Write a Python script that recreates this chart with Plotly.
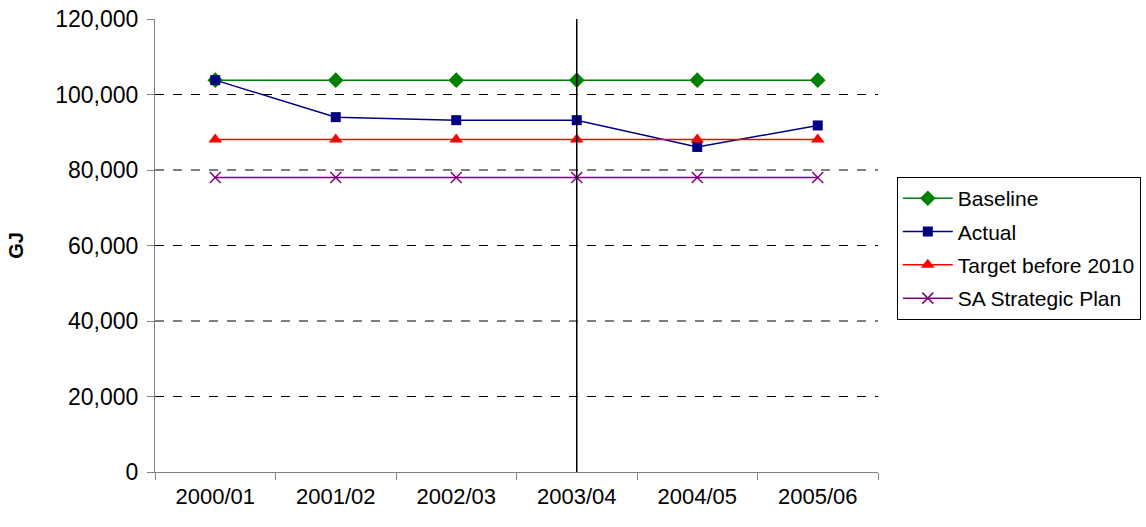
import plotly.graph_objects as go

years = ["2000/01", "2001/02", "2002/03", "2003/04", "2004/05", "2005/06"]
baseline = [103800, 103800, 103800, 103800, 103800, 103800]
actual = [103800, 94000, 93200, 93200, 86100, 91800]
target = [88100, 88100, 88100, 88100, 88100, 88100]
sa_plan = [78000, 78000, 78000, 78000, 78000, 78000]
y_ticks = [0, 20000, 40000, 60000, 80000, 100000, 120000]
grid_vals = [20000, 40000, 60000, 80000, 100000]
marker_year = "2003/04"

fig = go.Figure()
fig.add_trace(go.Scatter(x=years, y=baseline, name="Baseline", mode="lines+markers",
                         legendgroup="a",
                         line=dict(color="#008000", width=1.5),
                         marker=dict(symbol="diamond", size=12, color="#008000")))
fig.add_trace(go.Scatter(x=years, y=actual, name="Actual", mode="lines+markers",
                         legendgroup="b",
                         line=dict(color="#000080", width=1.5),
                         marker=dict(symbol="square", size=10, color="#000080")))
fig.add_trace(go.Scatter(x=years, y=target, name="Target before 2010", mode="lines+markers",
                         legendgroup="c",
                         line=dict(color="#FF0000", width=1.5),
                         marker=dict(symbol="triangle-up", size=12, color="#FF0000")))
fig.add_trace(go.Scatter(x=years, y=sa_plan, name="SA Strategic Plan", mode="lines+markers",
                         legendgroup="d",
                         line=dict(color="#800080", width=1.5),
                         marker=dict(symbol="x-thin-open", size=11, color="#800080",
                                     line=dict(color="#800080", width=1.5))))

for g in grid_vals:
    fig.add_shape(type="line", xref="paper", x0=0, x1=1, yref="y", y0=g, y1=g,
                  line=dict(color="black", width=1, dash="dash"), layer="below")

fig.add_shape(type="line", xref="x", x0=marker_year, x1=marker_year, yref="paper", y0=0, y1=1,
              line=dict(color="black", width=1.5))

fig.update_layout(
    width=1146, height=527,
    margin=dict(l=155, r=268, t=19, b=55, autoexpand=False),
    paper_bgcolor="white", plot_bgcolor="white",
    font=dict(family="Arial, Liberation Sans, sans-serif", size=18, color="black"),
    showlegend=True,
    legend=dict(x=1.026, y=0.651, xanchor="left", yanchor="top",
                bordercolor="black", borderwidth=1, bgcolor="white",
                font=dict(size=21), tracegroupgap=3, itemwidth=50,
                traceorder="grouped"),
    xaxis=dict(type="category", range=[-0.5, 5.5], showgrid=False,
               showline=True, linecolor="#808080", linewidth=1,
               ticks="outside", ticklen=7, tickcolor="#808080", tickson="boundaries",
               tickfont=dict(size=22), ticklabelstandoff=5),
    yaxis=dict(range=[0, 120000], tickvals=y_ticks, tickformat=",d", showgrid=False,
               zeroline=False, showline=True, linecolor="#808080", linewidth=1,
               ticks="outside", ticklen=7, tickcolor="#808080",
               tickfont=dict(size=23), ticklabelstandoff=4, ticklabeloverflow="allow",
               title=dict(text="<b>GJ</b>", font=dict(size=20), standoff=26)),
)

fig.write_html("out.html", config={"displayModeBar": False},
               post_script="document.body.style.margin='0';")
